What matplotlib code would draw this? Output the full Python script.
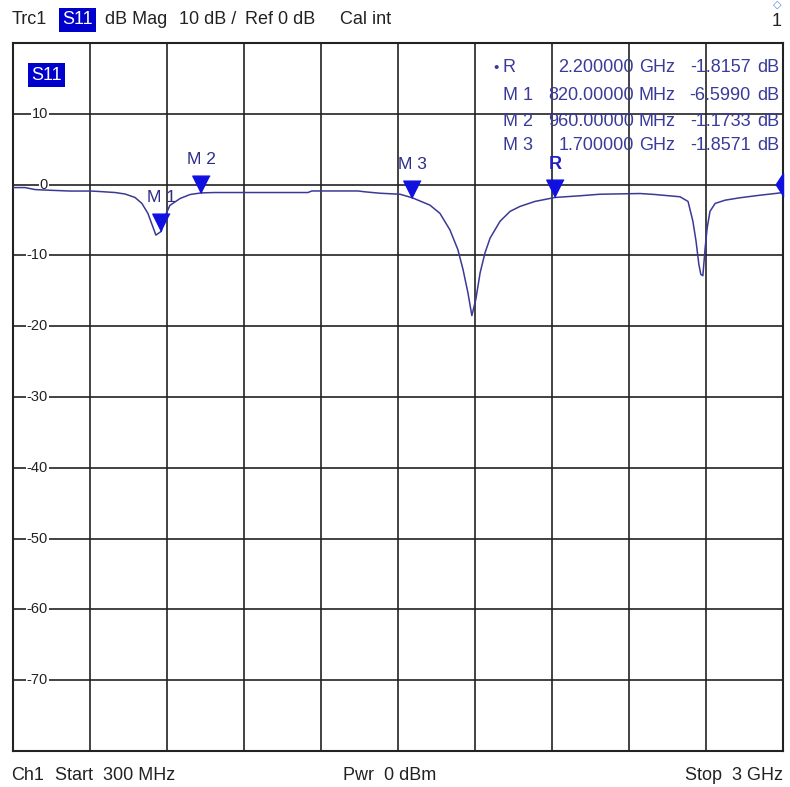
import numpy as np
import matplotlib
matplotlib.use("Agg")
import matplotlib.pyplot as plt
import matplotlib.transforms as mtransforms

plt.rcParams['font.family'] = ['Liberation Sans', 'DejaVu Sans']

# trace (MHz, dB)
freq_mhz = [300, 342, 377, 412, 500, 574, 605, 658, 693, 728, 752, 773, 787, 801,
            820, 833, 850, 886, 921, 960, 1008, 1106, 1236, 1334, 1348, 1510, 1534,
            1587, 1657, 1700, 1762, 1797, 1832, 1860, 1878, 1895, 1909, 1923, 1938,
            1955, 1973, 2008, 2043, 2078, 2130, 2200, 2288, 2358, 2499, 2551, 2639,
            2667, 2684, 2695, 2705, 2712, 2719, 2727, 2734, 2744, 2762, 2797, 2849,
            2919, 2972, 3000]
s11_db = [-0.42, -0.42, -0.70, -0.77, -0.91, -0.91, -0.98, -1.12, -1.33, -1.82, -2.66,
          -4.06, -5.59, -7.13, -6.60, -4.48, -2.94, -1.96, -1.40, -1.17, -1.12, -1.12,
          -1.12, -1.12, -0.90, -0.90, -1.02, -1.22, -1.36, -1.86, -2.90, -4.06, -6.39,
          -9.19, -11.99, -15.24, -18.50, -16.18, -12.45, -9.65, -7.55, -5.17, -3.78,
          -3.08, -2.38, -1.82, -1.58, -1.36, -1.26, -1.40, -1.72, -2.38, -5.17, -7.97,
          -11.29, -12.69, -12.87, -8.95, -6.15, -3.78, -2.66, -2.20, -1.86, -1.50,
          -1.26, -1.12]

# markers
mk_names = ['R', 'M 1', 'M 2', 'M 3']
mk_freq = [2200, 820, 960, 1700]
mk_db = [-1.8157, -6.5990, -1.1733, -1.8571]
mk_freq_txt = ['2.200000', '820.00000', '960.00000', '1.700000']
mk_unit = ['GHz', 'MHz', 'MHz', 'GHz']
mk_db_txt = ['-1.8157', '-6.5990', '-1.1733', '-1.8571']

y_labels = [10, 0, -10, -20, -30, -40, -50, -60, -70]

W, H = 790, 787
fig = plt.figure(figsize=(W / 100, H / 100), dpi=100)
fig.patch.set_facecolor('white')

def fx(x):
    return x / W

def fy(y):
    return 1 - y / H

L, R_, T, B = 13, 783, 43, 751
ax = fig.add_axes([fx(L), fy(B), (R_ - L) / W, (B - T) / H])
ax.set_xlim(300, 3000)
ax.set_ylim(-80, 20)
ax.set_xticks(np.arange(300, 3001, 270))
ax.set_yticks(np.arange(-80, 21, 10))
ax.grid(True, color='#222222', lw=1.2)
ax.tick_params(length=0, labelleft=False, labelbottom=False)
for s in ax.spines.values():
    s.set_color('#222222')
    s.set_linewidth(1.5)

trace_col = '#3a3a96'
ax.plot(freq_mhz, s11_db, color=trace_col, lw=1.1, zorder=3)

# y labels inside the grid
blend = mtransforms.blended_transform_factory(ax.transAxes, ax.transData)
for v in y_labels:
    ax.text((48 - L) / (R_ - L), v, str(v), transform=blend, ha='right', va='center',
            fontsize=10.5, color='#222222', zorder=2,
            bbox=dict(fc='white', ec='none', pad=0.5))

# marker triangles, tip on the trace
tri = [(0, 0), (-0.5, 1), (0.5, 1)]
for name, f, d in zip(mk_names, mk_freq, mk_db):
    ax.plot(f, d, marker=tri, ms=25, color='#1010e0', ls='none', zorder=5)
    if name == 'R':
        ax.annotate('R', (f, d), xytext=(0, 24), textcoords='offset points',
                    ha='center', va='center', fontsize=13, fontweight='bold',
                    color='#2020c0', zorder=6)
    else:
        ax.annotate(name, (f, d), xytext=(0, 24), textcoords='offset points',
                    ha='center', va='center', fontsize=12.5, color='#2e2e8a', zorder=6)

# reference level arrow on right edge
ax.plot(3000, 0, marker=[(-0.65, 0), (0, 1), (0, -1)], ms=17, color='#1010e0',
        ls='none', clip_on=False, zorder=6)

# marker table
tab_col = '#3a3a9a'
fs_tab = 13
rows_y = [68, 95, 121, 146]
for i in range(4):
    y = rows_y[i]
    if mk_names[i] == 'R':
        fig.text(fx(493), fy(y), '\u2022', fontsize=11, color=tab_col, va='center')
    fig.text(fx(503), fy(y), mk_names[i], fontsize=fs_tab, color=tab_col, va='center')
    fig.text(fx(634), fy(y), mk_freq_txt[i], fontsize=fs_tab, color=tab_col, va='center', ha='right')
    fig.text(fx(639), fy(y), mk_unit[i], fontsize=fs_tab, color=tab_col, va='center')
    fig.text(fx(751), fy(y), mk_db_txt[i], fontsize=fs_tab, color=tab_col, va='center', ha='right')
    fig.text(fx(757), fy(y), 'dB', fontsize=fs_tab, color=tab_col, va='center')

# S11 tag inside
fig.text(fx(31), fy(75), 'S11', fontsize=13, color='white', va='center',
         bbox=dict(fc='#0000cc', ec='none', pad=2.5))

# header
hc = '#222222'
fs_h = 13
fig.text(fx(12), fy(20), 'Trc1', fontsize=fs_h, color=hc, va='center')
fig.text(fx(62), fy(20), 'S11', fontsize=fs_h, color='white', va='center',
         bbox=dict(fc='#0000cc', ec='none', pad=2.5))
fig.text(fx(105), fy(20), 'dB Mag', fontsize=fs_h, color=hc, va='center')
fig.text(fx(179), fy(20), '10 dB /', fontsize=fs_h, color=hc, va='center')
fig.text(fx(245), fy(20), 'Ref 0 dB', fontsize=fs_h, color=hc, va='center')
fig.text(fx(340), fy(20), 'Cal int', fontsize=fs_h, color=hc, va='center')
fig.text(fx(782), fy(22), '1', fontsize=fs_h, color=hc, va='center', ha='right')
# small channel icon at the top right corner
fig.text(fx(777), fy(5), '\u25c7', fontsize=8, color='#4a8ad0', va='center', ha='center')

# footer
fig.text(fx(11), fy(775), 'Ch1', fontsize=fs_h, color=hc, va='center')
fig.text(fx(55), fy(775), 'Start  300 MHz', fontsize=fs_h, color=hc, va='center')
fig.text(fx(343), fy(775), 'Pwr  0 dBm', fontsize=fs_h, color=hc, va='center')
fig.text(fx(783), fy(775), 'Stop  3 GHz', fontsize=fs_h, color=hc, va='center', ha='right')

fig.savefig('out.png', dpi=100, facecolor='white')
